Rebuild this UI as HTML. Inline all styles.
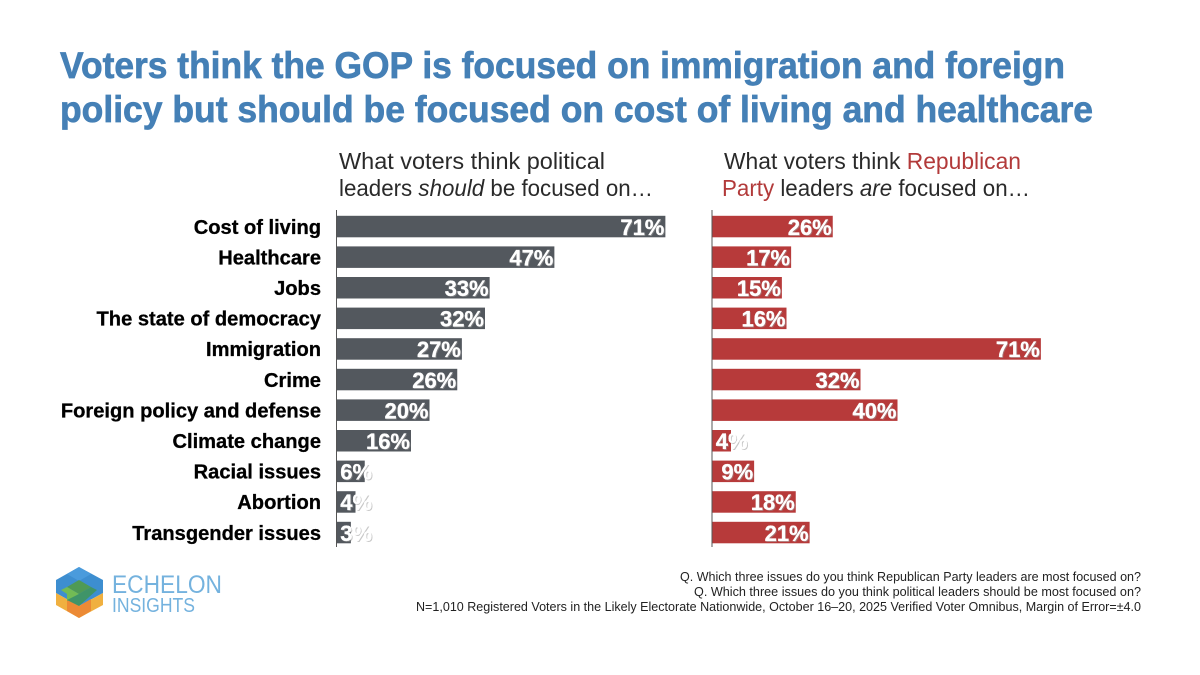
<!DOCTYPE html>
<html lang="en">
<head>
<meta charset="utf-8">
<title>Voters think the GOP is focused on immigration and foreign policy</title>
<style>
html,body{margin:0;padding:0;background:#fff;}
svg{display:block;font-family:"Liberation Sans",sans-serif;}
.title{font-size:37px;font-weight:bold;fill:#4580b6;stroke:#4580b6;stroke-width:.7px;}
.sub{font-size:23px;fill:#2a2a2a;}
.foot{font-size:12.5px;fill:#222;text-anchor:end;}
.cat{font-size:20.1px;font-weight:bold;fill:#000;text-anchor:end;stroke:#000;stroke-width:.3px;}
.val{font-size:22px;font-weight:bold;fill:#fff;text-anchor:end;stroke:#fff;stroke-width:.3px;}
.val-shadow{font-size:22px;font-weight:bold;fill:#9a9a9a;text-anchor:end;opacity:.55;}
</style>
</head>
<body>
<svg id="chart" width="1200" height="675" viewBox="0 0 1200 675" xmlns="http://www.w3.org/2000/svg">
  <rect width="1200" height="675" fill="#ffffff"/>
  <g>
    <text class="title" x="60" y="78" textLength="1005" lengthAdjust="spacingAndGlyphs">Voters think the GOP is focused on immigration and foreign</text>
    <text class="title" x="60" y="122" textLength="1033" lengthAdjust="spacingAndGlyphs">policy but should be focused on cost of living and healthcare</text>
  </g>
  <g>
    <text class="sub" x="339" y="169" textLength="266" lengthAdjust="spacingAndGlyphs">What voters think political</text>
    <text class="sub" x="339" y="196" textLength="314" lengthAdjust="spacingAndGlyphs">leaders <tspan font-style="italic">should</tspan> be focused on…</text>
  </g>
  <g>
    <text class="sub" x="724" y="169" textLength="297" lengthAdjust="spacingAndGlyphs">What voters think <tspan fill="#b23a3a">Republican</tspan></text>
    <text class="sub" x="722" y="196" textLength="308" lengthAdjust="spacingAndGlyphs"><tspan fill="#b23a3a">Party</tspan> leaders <tspan font-style="italic">are</tspan> focused on…</text>
  </g>
  <g id="category-labels"></g>
  <g id="left-bars"></g>
  <g id="right-bars"></g>
  <line x1="336.5" y1="210" x2="336.5" y2="547" stroke="#555" stroke-width="1"/>
  <line x1="712" y1="210" x2="712" y2="547" stroke="#555" stroke-width="1"/>
  <g>
    <polygon points="79,567 103,580 103,593 79,606 56,593 56,580" fill="#3d8ed0"/>
    <polygon points="79,567 91,574 79,581 67,574" fill="#4a9bdc"/>
    <polygon points="56,593 79,606 103,593 103,605 79,618 56,605" fill="#f0b040"/>
    <polygon points="67,599 79,606 91,599 91,611 79,618 67,611" fill="#ec8a35"/>
    <polygon points="79,580 91,587 79,594 67,587" fill="#4f9a55"/>
    <polygon points="67,587 79,594 67,601 67,594 61,590" fill="#72bb55"/>
    <polygon points="79,594 91,587 97,590 79,606 67,600" fill="#3f9468"/>
    <text x="112" y="593" font-size="25" fill="#74b2de" textLength="110" lengthAdjust="spacingAndGlyphs">ECHELON</text>
    <text x="112" y="612" font-size="20" fill="#74b2de" textLength="83" lengthAdjust="spacingAndGlyphs">INSIGHTS</text>
  </g>
  <g>
    <text class="foot" x="1141" y="581" textLength="461" lengthAdjust="spacingAndGlyphs">Q. Which three issues do you think Republican Party leaders are most focused on?</text>
    <text class="foot" x="1141" y="596" textLength="447" lengthAdjust="spacingAndGlyphs">Q. Which three issues do you think political leaders should be most focused on?</text>
    <text class="foot" x="1141" y="611" textLength="725" lengthAdjust="spacingAndGlyphs">N=1,010 Registered Voters in the Likely Electorate Nationwide, October 16–20, 2025 Verified Voter Omnibus, Margin of Error=±4.0</text>
  </g>
</svg>
<script>
const categories = ["Cost of living","Healthcare","Jobs","The state of democracy","Immigration","Crime","Foreign policy and defense","Climate change","Racial issues","Abortion","Transgender issues"];
const shouldFocus = [71,47,33,32,27,26,20,16,6,4,3];
const areFocused = [26,17,15,16,71,32,40,4,9,18,21];

const SVG_NS = "http://www.w3.org/2000/svg";
const rowTop = 215.8, rowStep = 30.6, barHeight = 21.5, unit = 4.625, minLabelOffset = 35;
function yAxis(i){ return rowTop + i * rowStep; }
function xAxis(origin, v){ return origin + v * unit; }

function svgEl(tag, cls){
  const el = document.createElementNS(SVG_NS, tag);
  if (cls) el.setAttribute("class", cls);
  return el;
}

categories.forEach(function(name, i){
  const t = svgEl("text", "cat");
  
  
  t.setAttribute("x", 321);
  t.setAttribute("y", yAxis(i) + 18);
  t.textContent = name;
  document.getElementById("category-labels").appendChild(t);
});

function drawSeries(groupId, values, origin, color){
  const g = document.getElementById(groupId);
  values.forEach(function(v, i){
    const end = xAxis(origin, v);
    const bar = svgEl("rect");
    
    
    bar.setAttribute("x", origin);
    bar.setAttribute("y", yAxis(i));
    bar.setAttribute("width", end - origin);
    bar.setAttribute("height", barHeight);
    bar.setAttribute("fill", color);
    g.appendChild(bar);

    const labelX = Math.max(end - 1, origin + minLabelOffset);
    const shadow = svgEl("text", "val-shadow");
    
    
    shadow.setAttribute("x", labelX + 1);
    shadow.setAttribute("y", yAxis(i) + 20);
    shadow.textContent = v + "%";
    g.appendChild(shadow);

    const label = svgEl("text", "val");
    
    
    label.setAttribute("x", labelX);
    label.setAttribute("y", yAxis(i) + 19);
    label.textContent = v + "%";
    g.appendChild(label);
  });
}

drawSeries("left-bars", shouldFocus, 337, "#53585e");
drawSeries("right-bars", areFocused, 712.5, "#b73a3a");
</script>
</body>
</html>
